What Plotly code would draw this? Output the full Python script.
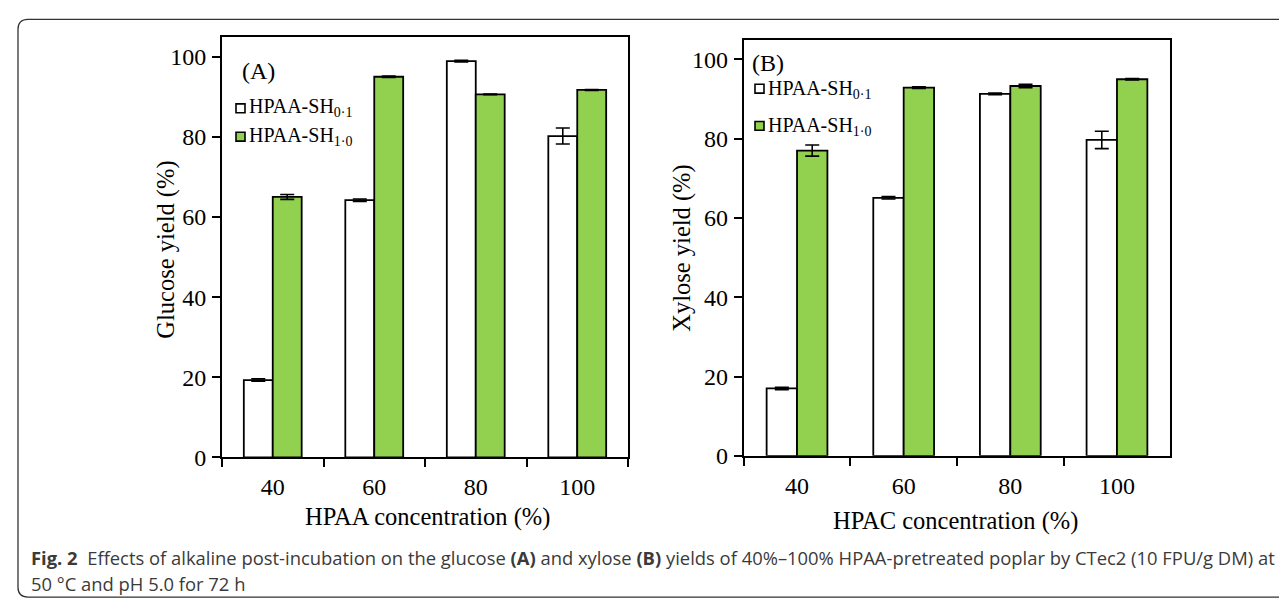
import plotly.graph_objects as go

categories = ["40", "60", "80", "100"]

# Panel A: glucose yield (%)
glucose_sh01 = [19.3, 64.2, 98.9, 80.2]
glucose_sh01_err = [0.3, 0.3, 0.2, 2.0]
glucose_sh10 = [65.0, 95.0, 90.6, 91.7]
glucose_sh10_err = [0.6, 0.2, 0.1, 0.1]

# Panel B: xylose yield (%)
xylose_sh01 = [17.0, 65.1, 91.3, 79.7]
xylose_sh01_err = [0.3, 0.3, 0.2, 2.2]
xylose_sh10 = [77.0, 92.9, 93.3, 95.0]
xylose_sh10_err = [1.4, 0.2, 0.4, 0.2]

series_names = ["HPAA-SH<sub>0·1</sub>", "HPAA-SH<sub>1·0</sub>"]
y_ticks = [0, 20, 40, 60, 80, 100]

W, H = 1287, 605
SERIF = "Liberation Serif, Times New Roman, serif"
CAP = "Open Sans, Noto Sans, sans-serif"
GREEN = "#92d050"
colors = ["white", GREEN]


def px(x):
    return x / W


def py(y):
    return 1 - y / H


fig = go.Figure()


def add_pair(vals0, err0, vals1, err1, xa, ya):
    for vals, err, color, name in [(vals0, err0, colors[0], series_names[0]),
                                   (vals1, err1, colors[1], series_names[1])]:
        fig.add_trace(go.Bar(
            x=categories, y=vals, name=name, xaxis=xa, yaxis=ya,
            marker=dict(color=color, line=dict(color="black", width=1.8)),
            error_y=dict(type="data", array=err, visible=True,
                         color="black", thickness=1.6, width=7),
            showlegend=False,
        ))


add_pair(glucose_sh01, glucose_sh01_err, glucose_sh10, glucose_sh10_err, "x", "y")
add_pair(xylose_sh01, xylose_sh01_err, xylose_sh10, xylose_sh10_err, "x2", "y2")

axis_common = dict(showline=True, linecolor="black", linewidth=2, mirror=True,
                   ticks="outside", ticklen=8, tickwidth=2, tickcolor="black",
                   showgrid=False, zeroline=False,
                   tickfont=dict(family=SERIF, size=24, color="black"))

fig.update_layout(
    width=W, height=H,
    margin=dict(l=0, r=0, t=0, b=0),
    paper_bgcolor="white", plot_bgcolor="white",
    barmode="group", bargap=0.43, bargroupgap=0,
    showlegend=False,
    xaxis=dict(domain=[px(214), px(620)], anchor="y", tickson="boundaries",
               ticklabelstandoff=7, **axis_common),
    yaxis=dict(domain=[py(459.3), py(29.3)], anchor="x", range=[0, 105],
               tickvals=y_ticks, ticklabelstandoff=1, **axis_common),
    xaxis2=dict(domain=[px(735.7), px(1162.3)], anchor="y2", tickson="boundaries",
                ticklabelstandoff=7, **axis_common),
    yaxis2=dict(domain=[py(457.7), py(32.3)], anchor="x2", range=[0, 105],
                tickvals=y_ticks, ticklabelstandoff=1, **axis_common),
)


def text(t, x, y, size, family=SERIF, color="black", angle=0, xanchor="center"):
    fig.add_annotation(text=t, xref="paper", yref="paper", x=px(x), y=py(y),
                       xanchor=xanchor, yanchor="middle", showarrow=False,
                       textangle=angle, font=dict(family=family, size=size, color=color))


# axis titles
text("Glucose yield (%)", 158, 247, 24.5, angle=-90)
text("Xylose yield (%)", 674, 246, 24.5, angle=-90)
text("HPAA concentration (%)", 419, 520, 24.5)
text("HPAC concentration (%)", 947, 524, 24.5)

# panel labels
text("(A)", 232, 64, 24, xanchor="left")
text("(B)", 742, 56, 24, xanchor="left")

# legends (square swatch + label)
legend_items = [
    # (square left, square top, text y) for panel A then B
    [(228, 98, 102), (228, 127, 131)],
    [(747, 78, 83), (747, 116, 121)],
]
for panel in legend_items:
    for i, (sx, sy, ty) in enumerate(panel):
        fig.add_shape(type="rect", xref="paper", yref="paper",
                      x0=px(sx), x1=px(sx + 9), y0=py(sy + 9), y1=py(sy),
                      fillcolor=colors[i], line=dict(color="black", width=1.6))
        text(series_names[i], sx + 11, ty, 20, xanchor="left")

# caption
text("<b>Fig. 2</b>  Effects of alkaline post-incubation on the glucose <b>(A)</b> and xylose "
     "<b>(B)</b> yields of 40%–100% HPAA-pretreated poplar by CTec2 (10 FPU/g DM) at",
     21, 562, 18.4, family=CAP, color="#3a3a3a", xanchor="left")
text("50 °C and pH 5.0 for 72 h", 21, 588, 18.4, family=CAP, color="#3a3a3a", xanchor="left")

# rounded frame around the figure (open on the right)
x0, x1, y0, y1 = px(10), px(1300), py(11.7), py(602)
rx, ry = 10 / W, 10 / H
path = (f"M {x1},{y0} L {x0+rx},{y0} Q {x0},{y0} {x0},{y0-ry} "
        f"L {x0},{y1+ry} Q {x0},{y1} {x0+rx},{y1} L {x1},{y1}")
fig.add_shape(type="path", path=path, xref="paper", yref="paper",
              line=dict(color="#333333", width=1.3), layer="below")

fig.write_html("out.html")
